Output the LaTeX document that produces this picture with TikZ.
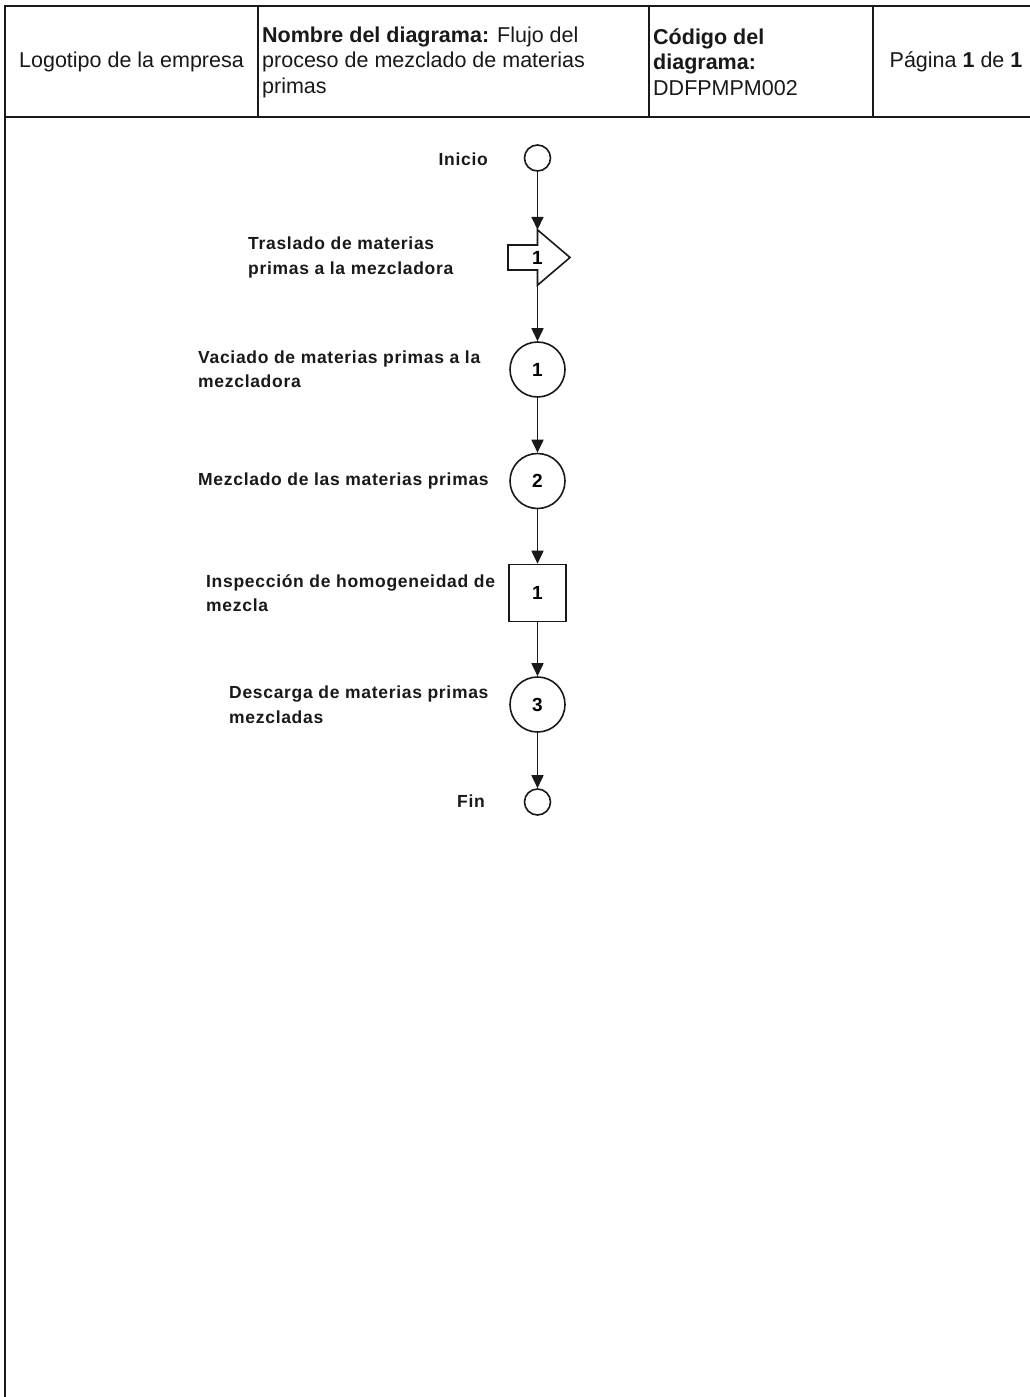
\documentclass[tikz,border=0pt]{standalone}
\usepackage{fontspec}
\setmainfont{Liberation Sans}
\usetikzlibrary{arrows.meta,calc}

\begin{document}
\begin{tikzpicture}[x=1pt,y=-1pt,
  frame/.style={line width=1.9pt, draw=black!90},
  flowline/.style={line width=1.7pt, draw=black!90, -{Triangle[length=13pt,width=12pt]}},
  symbol/.style={draw=black!90, line width=1.6pt, inner sep=0pt,
    font=\fontsize{19}{20}\selectfont\bfseries},
  terminal/.style={symbol, circle, minimum size=26pt},
  operation/.style={symbol, circle, minimum size=55pt},
  inspection/.style={symbol, rectangle, minimum size=57pt},
  headtext/.style={inner sep=0pt, align=left, text=black!90,
    font=\fontsize{21.5}{25.5}\selectfont},
  steptext/.style={inner sep=0pt, align=left, text=black!90,
    font=\fontsize{17.5}{24.5}\selectfont\bfseries\addfontfeatures{LetterSpace=4}}
]
\useasboundingbox (0,0) rectangle (1029,1397);
\fill[white] (0,0) rectangle (1029,1397);

% page frame and header row
\draw[frame] (5,1410) -- (5,6) -- (1040,6);
\draw[frame] (5,117) -- (1040,117);
\draw[frame] (258,6) -- (258,117);
\draw[frame] (649,6) -- (649,117);
\draw[frame] (873,6) -- (873,117);

\node[headtext, anchor=center] (logo) at (131.5,62) {Logotipo de la empresa};
\node[headtext, anchor=west] (title) at (262,62)
  {\textbf{Nombre del diagrama:} Flujo del\\proceso de mezclado de materias\\primas};
\node[headtext, anchor=west] (code) at (653,62)
  {\textbf{Código del}\\\textbf{diagrama:}\\DDFPMPM002};
\node[headtext, anchor=center] (page) at (956,62) {Página \textbf{1} de \textbf{1}};

% process symbols
\node[terminal] (ini) at (537.5,158) {};
\node[inner sep=0pt, minimum width=0pt, minimum height=55pt,
      font=\fontsize{19}{20}\selectfont\bfseries] (t1) at (537.5,257.5) {1};
\draw[draw=black!90, line width=1.6pt]
  ($(t1)+(-29.5,-12.5)$) -- ($(t1)+(0,-12.5)$) -- (t1.north)
  -- ($(t1)+(32.5,0)$) -- (t1.south) -- ($(t1)+(0,12.5)$)
  -- ($(t1)+(-29.5,12.5)$) -- cycle;
\node[operation] (o1) at (537.5,369.5) {1};
\node[operation] (o2) at (537.5,481) {2};
\node[inspection] (i1) at (537.5,593) {1};
\node[operation] (o3) at (537.5,704.5) {3};
\node[terminal] (fin) at (537.5,802) {};

% connectors
\draw[flowline] (ini.south) -- (t1.north);
\draw[flowline] (t1.south) -- (o1.north);
\draw[flowline] (o1.south) -- (o2.north);
\draw[flowline] (o2.south) -- (i1.north);
\draw[flowline] (i1.south) -- (o3.north);
\draw[flowline] (o3.south) -- (fin.north);

% step descriptions
\node[steptext, anchor=east] (lini) at (488,159) {Inicio};
\node[steptext, anchor=west] (lt1) at (248,257.5)
  {Traslado de materias\\primas a la mezcladora};
\node[steptext, anchor=west] (lo1) at (198,369)
  {Vaciado de materias primas a la\\mezcladora};
\node[steptext, anchor=west] (lo2) at (198,481) {Mezclado de las materias primas};
\node[steptext, anchor=west] (li1) at (206,593)
  {Inspección de homogeneidad de\\mezcla};
\node[steptext, anchor=west] (lo3) at (229,704.5)
  {Descarga de materias primas\\mezcladas};
\node[steptext, anchor=east] (lfin) at (485,801) {Fin};
\end{tikzpicture}
\end{document}
